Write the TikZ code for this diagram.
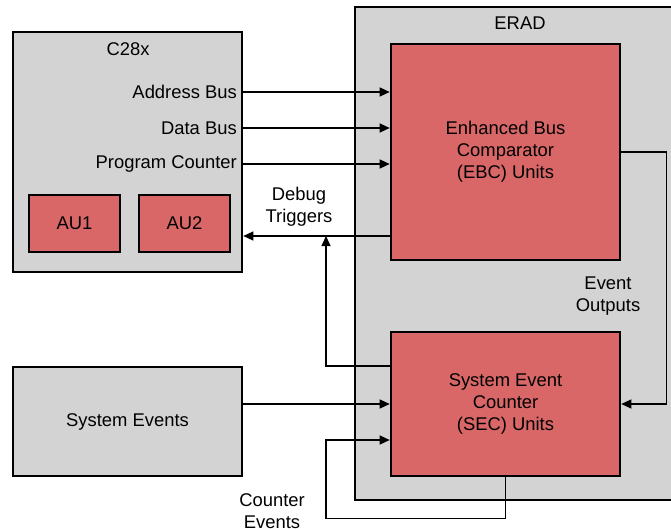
\documentclass[tikz,border=0pt]{standalone}
\usepackage{fontspec}
\setmainfont{Liberation Sans}
\usetikzlibrary{arrows.meta,calc,positioning}
\definecolor{blockgray}{RGB}{211,211,211}
\definecolor{unitred}{RGB}{217,103,103}

\begin{document}
\begin{tikzpicture}[x=1pt,y=-1pt,>={Triangle[length=10pt,width=9pt]},
	font=\fontsize{18.4}{22}\selectfont,
	block/.style={draw=black,line width=2.6pt,fill=blockgray,inner sep=0pt,align=center},
	unit/.style={block,fill=unitred},
	link/.style={line width=1.3pt}]
	\useasboundingbox (0,0) rectangle (671,529);
	% outer blocks
	\node[block,minimum width=229pt,minimum height=240pt] (c28x) at (127.5,152) {};
	\node[block,minimum width=325pt,minimum height=493pt] (erad) at (517.5,253.5) {};
	\node[block,minimum width=229pt,minimum height=109pt] (sysev) at (127.5,421.5) {System Events};
	\node at (128,49) {C28x};
	\node at (520,23) {ERAD};
	% units
	\node[unit,minimum width=91pt,minimum height=57pt] (au1) at (74.5,223.5) {AU1};
	\node[unit,minimum width=91pt,minimum height=57pt] (au2) at (184.5,223.5) {AU2};
	\node[unit,minimum width=229pt,minimum height=216pt] (ebc) at (505.5,152) {Enhanced Bus\\Comparator\\(EBC) Units};
	\node[unit,minimum width=229pt,minimum height=144pt] (sec) at (505.5,404) {System Event\\Counter\\(SEC) Units};
	% bus labels
	\node[anchor=east,inner sep=0pt] (addr) at (237,92) {Address Bus};
	\node[anchor=east,inner sep=0pt] (data) at (237,128) {Data Bus};
	\node[anchor=east,inner sep=0pt] (pc) at (237,164) {Program Counter};
	\node[align=center] (dbglbl) at (299,207) {Debug\\Triggers};
	\node[align=center] (evlbl) at (608,296) {Event\\Outputs};
	\node[align=center] (cntlbl) at (272,511) {Counter\\Events};
	\coordinate (dbg) at (326,236);
	% connectors
	\foreach \bus in {addr,data,pc}
		\draw[link,->] (\bus.east -| c28x.east) -- (\bus.east -| ebc.west);
	\draw[link,->] (ebc.west |- dbg) -- (c28x.east |- dbg);
	\draw[link,->] ([yshift=38pt]sec.west) -| (dbg);
	\draw[link,->] (sec.west -| sysev.east) -- (sec.west);
	\draw[link,->] (ebc.east) -- ++(45,0) |- (sec.east);
	\draw[link,->] (sec.south) -- ++(0,41) -| ([yshift=-36pt]sec.west -| dbg) -- ([yshift=-36pt]sec.west);
\end{tikzpicture}
\end{document}
